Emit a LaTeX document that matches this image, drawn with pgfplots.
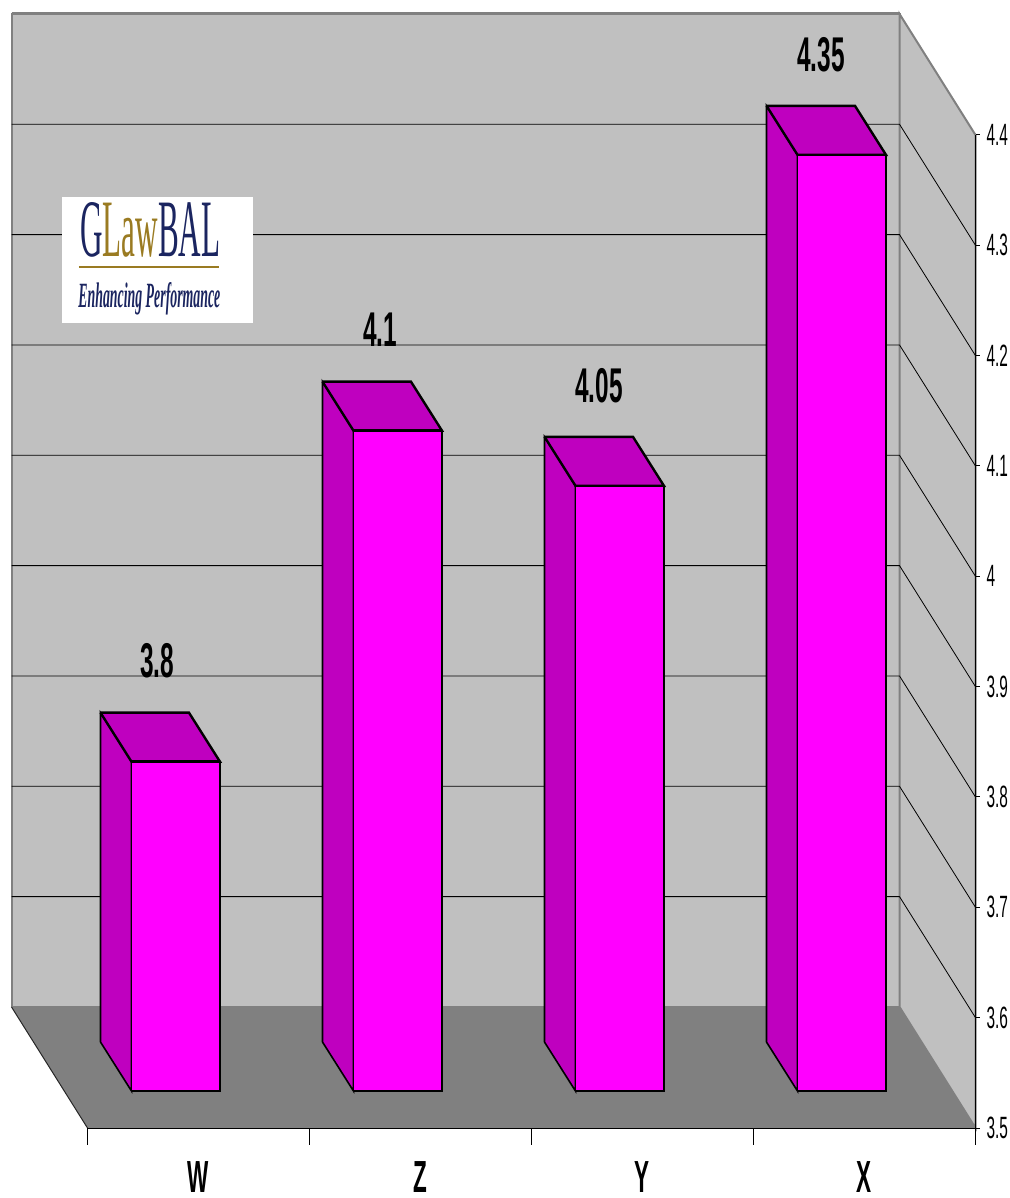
\documentclass[border=0pt]{standalone}
\usepackage{fontspec}
\setmainfont[FakeStretch=0.5]{Liberation Sans}
\newfontfamily\logofont{Liberation Serif}
\usepackage{pgfplots}
\pgfplotsset{compat=1.18}
\definecolor{barfront}{HTML}{FF00FF}
\definecolor{barside}{HTML}{BF00BF}
\definecolor{wallc}{HTML}{C0C0C0}
\definecolor{floorc}{HTML}{808080}
\definecolor{navy}{HTML}{1B2560}
\definecolor{gold}{HTML}{9A7B22}
\begin{document}
\begin{tikzpicture}
\useasboundingbox (-43.75pt,-35pt) rectangle (461.25pt,564pt);
\begin{axis}[
  scale only axis, width=444pt, height=496.5pt,
  xmin=-0.5, xmax=3.5, ymin=3.5, ymax=4.4,
  clip=false, axis on top=true, no markers,
  axis x line*=bottom, axis y line*=right,
  axis line style={-, black, line width=0.5pt},
  tick align=outside, major tick length=2pt,
  xtick={0,1,2,3}, xticklabels={W,Z,Y,X},
  ytick={3.5,3.6,3.7,3.8,3.9,4.0,4.1,4.2,4.3,4.4},
  x tick style={draw=none},
  y tick style={black, line width=0.5pt},
  /pgf/number format/assume math mode=true,
  /pgf/number format/fixed, /pgf/number format/precision=1,
  yticklabel style={font=\fontsize{15.4}{15.4}\selectfont, xshift=0pt},
  xticklabel style={font=\fontsize{22.5}{22.5}\bfseries\selectfont, anchor=center, inner sep=0pt, yshift=-22.5pt},
]
% back wall, side wall, floor
\addplot[fill=wallc, draw=floorc, line width=1pt] coordinates {(-0.8423,3.6097) (3.1577,3.6097) (3.1577,4.5097) (-0.8423,4.5097) (-0.8423,3.6097)};
\addplot[fill=wallc, draw=floorc, line width=1pt] coordinates {(3.1577,3.6097) (3.5,3.5) (3.5,4.4) (3.1577,4.5097) (3.1577,3.6097)};
\addplot[floorc, line width=1.5pt] coordinates {(-0.8423,4.5097) (3.1577,4.5097)};
\addplot[fill=floorc, draw=none] coordinates {(-0.5,3.5) (3.5,3.5) (3.1577,3.6097) (-0.8423,3.6097) (-0.5,3.5)};
\addplot[draw=black!70!floorc, line width=0.5pt] coordinates {(-0.8423,3.6097) (-0.5,3.5)};
% gridlines
\addplot[black, line width=0.4pt] coordinates {(-0.8423,3.7097) (3.1577,3.7097) (3.5,3.6)};
\addplot[black, line width=0.4pt] coordinates {(-0.8423,3.8097) (3.1577,3.8097) (3.5,3.7)};
\addplot[black, line width=0.4pt] coordinates {(-0.8423,3.9097) (3.1577,3.9097) (3.5,3.8)};
\addplot[black, line width=0.4pt] coordinates {(-0.8423,4.0097) (3.1577,4.0097) (3.5,3.9)};
\addplot[black, line width=0.4pt] coordinates {(-0.8423,4.1097) (3.1577,4.1097) (3.5,4.0)};
\addplot[black, line width=0.4pt] coordinates {(-0.8423,4.2097) (3.1577,4.2097) (3.5,4.1)};
\addplot[black, line width=0.4pt] coordinates {(-0.8423,4.3097) (3.1577,4.3097) (3.5,4.2)};
\addplot[black, line width=0.4pt] coordinates {(-0.8423,4.4097) (3.1577,4.4097) (3.5,4.3)};
% x-axis boundary ticks
\addplot[black, line width=0.4pt] coordinates {(-0.5,3.5) (-0.5,3.4846)};
\addplot[black, line width=0.4pt] coordinates {(0.5,3.5) (0.5,3.4846)};
\addplot[black, line width=0.4pt] coordinates {(1.5,3.5) (1.5,3.4846)};
\addplot[black, line width=0.4pt] coordinates {(2.5,3.5) (2.5,3.4846)};
\addplot[black, line width=0.4pt] coordinates {(3.5,3.5) (3.5,3.4846)};
% bar W 3.8
\addplot[fill=barside, draw=black, line width=0.8pt] coordinates {(-0.4414,3.5779) (-0.3018,3.5335) (-0.3018,3.832) (-0.4414,3.8764) (-0.4414,3.5779)};
\addplot[fill=barside, draw=black, line width=1.2pt] coordinates {(-0.4414,3.8764) (-0.0428,3.8764) (0.0968,3.832) (-0.3018,3.832) (-0.4414,3.8764)};
\addplot[fill=barfront, draw=black, line width=0.8pt] coordinates {(-0.3018,3.5335) (0.0968,3.5335) (0.0968,3.832) (-0.3018,3.832) (-0.3018,3.5335)};
\addplot[black, line width=1.3pt] coordinates {(-0.3018,3.5335) (0.0968,3.5335)};
\addplot[black, line width=1.3pt] coordinates {(-0.3018,3.832) (0.0968,3.832)};
% bar Z 4.1
\addplot[fill=barside, draw=black, line width=0.8pt] coordinates {(0.5586,3.5779) (0.6982,3.5335) (0.6982,4.132) (0.5586,4.1764) (0.5586,3.5779)};
\addplot[fill=barside, draw=black, line width=1.2pt] coordinates {(0.5586,4.1764) (0.9572,4.1764) (1.0968,4.132) (0.6982,4.132) (0.5586,4.1764)};
\addplot[fill=barfront, draw=black, line width=0.8pt] coordinates {(0.6982,3.5335) (1.0968,3.5335) (1.0968,4.132) (0.6982,4.132) (0.6982,3.5335)};
\addplot[black, line width=1.3pt] coordinates {(0.6982,3.5335) (1.0968,3.5335)};
\addplot[black, line width=1.3pt] coordinates {(0.6982,4.132) (1.0968,4.132)};
% bar Y 4.05
\addplot[fill=barside, draw=black, line width=0.8pt] coordinates {(1.5586,3.5779) (1.6982,3.5335) (1.6982,4.082) (1.5586,4.1264) (1.5586,3.5779)};
\addplot[fill=barside, draw=black, line width=1.2pt] coordinates {(1.5586,4.1264) (1.9572,4.1264) (2.0968,4.082) (1.6982,4.082) (1.5586,4.1264)};
\addplot[fill=barfront, draw=black, line width=0.8pt] coordinates {(1.6982,3.5335) (2.0968,3.5335) (2.0968,4.082) (1.6982,4.082) (1.6982,3.5335)};
\addplot[black, line width=1.3pt] coordinates {(1.6982,3.5335) (2.0968,3.5335)};
\addplot[black, line width=1.3pt] coordinates {(1.6982,4.082) (2.0968,4.082)};
% bar X 4.35
\addplot[fill=barside, draw=black, line width=0.8pt] coordinates {(2.5586,3.5779) (2.6982,3.5335) (2.6982,4.382) (2.5586,4.4264) (2.5586,3.5779)};
\addplot[fill=barside, draw=black, line width=1.2pt] coordinates {(2.5586,4.4264) (2.9572,4.4264) (3.0968,4.382) (2.6982,4.382) (2.5586,4.4264)};
\addplot[fill=barfront, draw=black, line width=0.8pt] coordinates {(2.6982,3.5335) (3.0968,3.5335) (3.0968,4.382) (2.6982,4.382) (2.6982,3.5335)};
\addplot[black, line width=1.3pt] coordinates {(2.6982,3.5335) (3.0968,3.5335)};
\addplot[black, line width=1.3pt] coordinates {(2.6982,4.382) (3.0968,4.382)};
% data labels at the true values
\addplot[draw=none, point meta=explicit symbolic,
  nodes near coords,
  nodes near coords style={anchor=center, yshift=67.9pt, inner sep=0pt,
    font=\fontsize{24.4}{24.4}\bfseries\selectfont, text=black}]
  coordinates {(-0.187,3.8)[3.8] (0.8176,4.1)[4.1] (1.804,4.05)[4.05] (2.804,4.35)[4.35]};
% logo
\fill[white] (axis cs:-0.6149,4.2296) rectangle (axis cs:0.2455,4.3438);
\node[anchor=south west, inner sep=0pt] at (axis cs:-0.5338,4.2885)
  {\resizebox{70pt}{27pt}{\logofont\textcolor{navy}{G}\textcolor{gold}{Law}\textcolor{navy}{BAL}}};
\draw[gold, line width=1pt] (axis cs:-0.5383,4.2804) -- (axis cs:0.0923,4.2804);
\node[anchor=base west, inner sep=0pt, text=navy] at (axis cs:-0.5428,4.2432)
  {\resizebox{71pt}{12.5pt}{\logofont\itshape\bfseries Enhancing Performance}};
\end{axis}
\end{tikzpicture}
\end{document}
